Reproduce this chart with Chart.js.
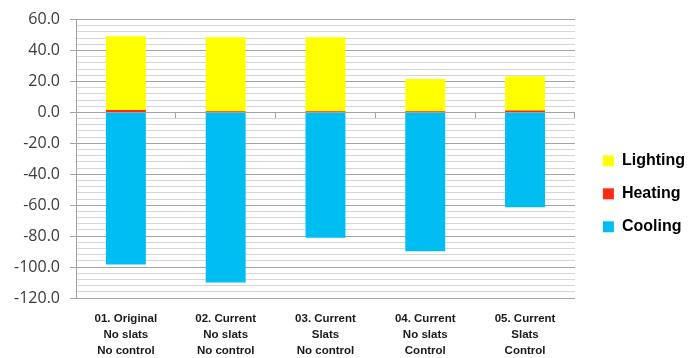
<!DOCTYPE html>
<html>
<head>
<meta charset="utf-8">
<script src="https://cdn.jsdelivr.net/npm/chart.js@4"></script>
<style>
  html, body { margin: 0; padding: 0; background: #ffffff; }
  #wrap { width: 695px; height: 358px; position: relative; }
</style>
</head>
<body>
<div id="wrap"><canvas id="chart"></canvas></div>
<script>
// Scenario labels (multi-line)
const categories = [
  ['01. Original', 'No slats', 'No control'],
  ['02. Current', 'No slats', 'No control'],
  ['03. Current', 'Slats', 'No control'],
  ['04. Current', 'No slats', 'Control'],
  ['05. Current', 'Slats', 'Control']
];

// Energy components per scenario
const lighting = [47.7, 47.9, 47.9, 20.9, 22.0];
const heating  = [1.5, 0.7, 0.7, 0.7, 1.3];
const cooling  = [-98.4, -110.0, -81.1, -89.8, -61.3];

// Value axis range and tick spacing
const yMin = -120;
const yMax = 60;
const minorStep = 4;
const majorStep = 20;

const isMajor = v => Math.abs(v % majorStep) < 1e-6;

const GRID_MAJOR = '#a3a3a3';
const GRID_MINOR = '#d6d6d6';

new Chart(document.getElementById('chart'), {
  type: 'bar',
  data: {
    labels: categories,
    datasets: [
      { label: 'Cooling',  data: cooling,  backgroundColor: '#00BDF2', borderWidth: 0 },
      { label: 'Heating',  data: heating,  backgroundColor: '#FF2A0F', borderWidth: 0 },
      { label: 'Lighting', data: lighting, backgroundColor: '#FFFF00', borderWidth: 0 }
    ]
  },
  options: {
    responsive: true,
    maintainAspectRatio: false,
    animation: false,
    devicePixelRatio: 1,
    categoryPercentage: 1.0,
    barPercentage: 0.4,
    layout: { padding: { left: 14, right: 0, top: 18, bottom: 0 } },
    plugins: {
      tooltip: { enabled: false },
      legend: {
        position: 'right',
        align: 'center',
        reverse: true,
        title: { display: true, text: '', padding: 1, font: { size: 8 } },
        labels: {
          boxWidth: 11,
          boxHeight: 11,
          padding: 17,
          color: '#000000',
          font: { family: 'Liberation Sans', size: 16, weight: 'bold' }
        }
      }
    },
    scales: {
      x: {
        type: 'category',
        stacked: true,
        position: 'bottom',
        grid: { display: false, drawTicks: false },
        border: { display: false },
        ticks: {
          padding: 13,
          maxRotation: 0,
          autoSkip: false,
          color: '#1a1a1a',
          font: { family: 'Liberation Sans', size: 11.5, weight: 'bold', lineHeight: 16 / 11.5 }
        },
        afterFit: s => { s.height = 60; }
      },
      // Category axis line crossing at zero, with tick marks between groups
      x0: {
        type: 'category',
        position: { y: 0 },
        offset: true,
        grid: {
          offset: true,
          drawOnChartArea: false,
          drawTicks: true,
          tickLength: 5,
          color: GRID_MAJOR
        },
        border: { display: true, color: GRID_MAJOR, width: 1 },
        ticks: { display: false }
      },
      y: {
        stacked: true,
        min: yMin,
        max: yMax,
        grid: {
          color: ctx => isMajor(ctx.tick.value) ? GRID_MAJOR : GRID_MINOR,
          tickColor: ctx => isMajor(ctx.tick.value) ? GRID_MAJOR : 'rgba(0,0,0,0)',
          tickLength: 6,
          lineWidth: 1
        },
        border: { display: true, color: GRID_MAJOR },
        ticks: {
          stepSize: minorStep,
          autoSkip: false,
          maxTicksLimit: 1000,
          padding: 10,
          color: '#3a3a3a',
          font: { family: 'Open Sans', size: 16 },
          callback: v => isMajor(v) ? Number(v).toFixed(1) : ''
        },
        afterFit: s => { s.width = 62; }
      },
      // Empty spacer between plot and legend
      gap: {
        type: 'linear',
        position: 'right',
        display: true,
        grid: { display: false, drawTicks: false },
        border: { display: false },
        ticks: { display: false },
        afterFit: s => { s.width = 11; }
      }
    }
  }
});
</script>
</body>
</html>
